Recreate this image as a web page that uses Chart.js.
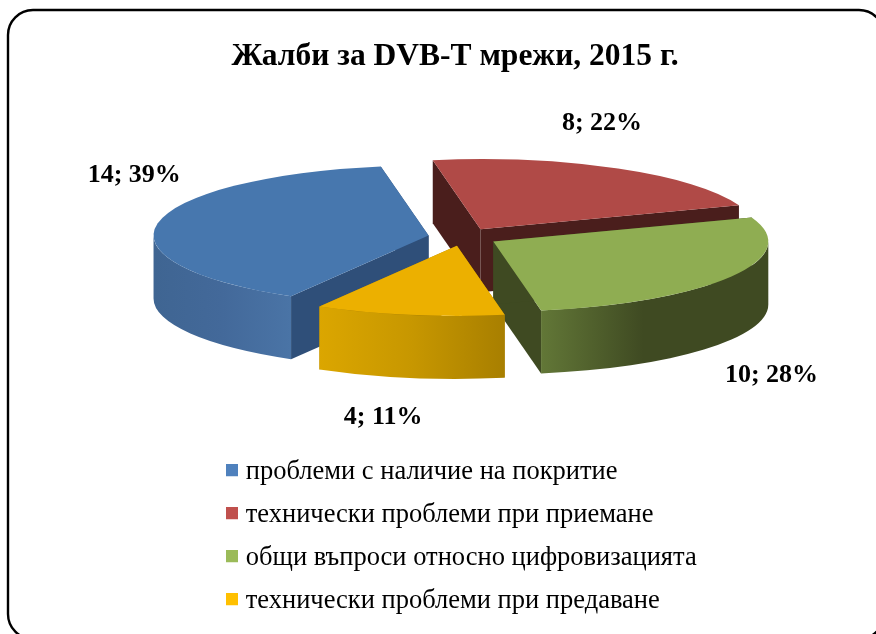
<!DOCTYPE html>
<html><head><meta charset="utf-8">
<style>html,body{margin:0;padding:0;background:#fff}#w{position:relative;width:876px;height:634px}canvas{display:block}</style>
<script src="https://cdn.jsdelivr.net/npm/chart.js@4"></script>
</head><body><div id="w"><canvas id="c" width="876" height="634"></canvas></div>
<script>
const categories = ['проблеми с наличие на покритие','технически проблеми при приемане','общи въпроси относно цифровизацията','технически проблеми при предаване'];
const values = [14, 8, 10, 4];
const percents = [39, 22, 28, 11];
const swatchColors = ['#4f81bd','#c0504d','#9bbb59','#ffc000'];
const topColors = ['#4777ae','#b04a47','#8fad52','#ecb000'];
const faceColors = ['#2f4f79','#4a1e1c','#3f4a22','#a87f00'];
const wallStops = [
  [[0,'#3f6592'],[0.5,'#43699a'],[1,'#4a74a6']],
  [[0,'#4a1e1c'],[1,'#4a1e1c']],
  [[0,'#627737'],[0.45,'#3f4a22'],[1,'#3f4a22']],
  [[0,'#dba600'],[0.5,'#c79700'],[1,'#a87f00']]
];
const SQUASH = 0.255, DEPTH = 63, CX = 463, CY = 237, EXPLODE = 35;
const labelNudge = [[-23.5,-48],[-16,-45],[40,99],[-26,102]];

const swatch = col => { const k=document.createElement('canvas'); k.width=12; k.height=16; const x=k.getContext('2d'); x.fillStyle=col; x.fillRect(0,0,12,12); return k; };

const view3d = {
  id:'view3d',
  beforeDraw(chart){
    const c = chart.ctx;
    c.save();
    c.fillStyle='#fff'; c.fillRect(0,0,876,634);
    c.beginPath(); c.roundRect(8,10,876,629,25);
    c.lineWidth=2.4; c.strokeStyle='#000'; c.stroke();
    c.restore();
  },
  beforeDatasetDraw(){ return false; },
  beforeDatasetsDraw(chart){
    const c = chart.ctx, arcs = chart.getDatasetMeta(0).data;
    const order = [1,0,2,3];
    const apex = a => { const mid=(a.startAngle+a.endAngle)/2; return [CX+Math.cos(mid)*EXPLODE, CY+Math.sin(mid)*EXPLODE*SQUASH]; };
    for (const i of order){
      const a = arcs[i], r = a.outerRadius, [ax,ay] = apex(a);
      const px = t => ax + Math.cos(t)*r, py = t => ay + Math.sin(t)*r*SQUASH;
      c.save();
      c.fillStyle = faceColors[i];
      for (const t of [a.endAngle,a.startAngle]){
        c.beginPath(); c.moveTo(ax,ay); c.lineTo(px(t),py(t)); c.lineTo(px(t),py(t)+DEPTH); c.lineTo(ax,ay+DEPTH); c.closePath(); c.fill();
      }
      // curved wall: only the lower half of the ellipse is in view
      let best=null;
      for (const k of [-2,0,2]){
        const s=Math.max(a.startAngle,k*Math.PI), e=Math.min(a.endAngle,(k+1)*Math.PI);
        if(e>s) best=[s,e];
      }
      if(best){
        const [s,e]=best, x0=Math.min(px(s),px(e)), x1=Math.max(px(s),px(e));
        const g=c.createLinearGradient(x0,0,x1,0);
        wallStops[i].forEach(st=>g.addColorStop(st[0],st[1]));
        c.fillStyle=g;
        c.beginPath();
        c.ellipse(ax,ay,r,r*SQUASH,0,s,e,false);
        c.lineTo(px(e),py(e)+DEPTH);
        c.ellipse(ax,ay+DEPTH,r,r*SQUASH,0,e,s,true);
        c.closePath(); c.fill();
      }
      c.restore();
    }
    // the library's own arc elements draw the top faces, tilted and pulled apart
    for (const i of order){
      const a = arcs[i], [ax,ay] = apex(a);
      c.save();
      c.translate(ax,ay); c.scale(1,SQUASH); c.translate(-a.x,-a.y);
      a.draw(c);
      c.restore();
    }
  },
  afterDatasetsDraw(chart){
    const c = chart.ctx;
    const arcs = chart.getDatasetMeta(0).data;
    c.save();
    c.font='bold 26px "Liberation Serif"'; c.fillStyle='#000'; c.textAlign='center'; c.textBaseline='middle';
    arcs.forEach((a,i)=>{
      const mid=(a.startAngle+a.endAngle)/2, R=a.outerRadius+EXPLODE;
      const x=CX+Math.cos(mid)*R+labelNudge[i][0], y=CY+Math.sin(mid)*R*SQUASH+labelNudge[i][1];
      c.fillText(values[i]+'; '+percents[i]+'%',x,y);
    });
    c.restore();
  },
  afterLayout(chart){
    const l=chart.legend; if(!l) return;
    l.left=215; l.top=442.5; l.width=640; l.right=855; l.bottom=700; l.height=257.5;
  }
};

new Chart(document.getElementById('c'),{
  type:'pie',
  plugins:[view3d],
  data:{labels:categories,datasets:[{
    data:values,
    backgroundColor:topColors,
    borderWidth:0,
    radius:275,
    clip:false
  }]},
  options:{
    responsive:false,animation:false,
    rotation:-150,
    layout:{padding:{left:34,top:38}},
    plugins:{
      title:{display:true,text:'Жалби за DVB-T мрежи, 2015 г.',color:'#000',font:{family:'"Liberation Serif"',size:31.5,weight:'bold'},padding:{top:0,bottom:10}},
      legend:{position:'left',align:'start',labels:{
        font:{family:'"Liberation Serif"',size:26.5},color:'#111',padding:16.5,usePointStyle:true,pointStyleWidth:1,boxHeight:12,
        generateLabels:()=>categories.map((t,i)=>({text:t,fillStyle:swatchColors[i],strokeStyle:swatchColors[i],lineWidth:0,index:i,pointStyle:swatch(swatchColors[i])}))
      }},
      tooltip:{enabled:false}
    }
  }
});
</script></body></html>
